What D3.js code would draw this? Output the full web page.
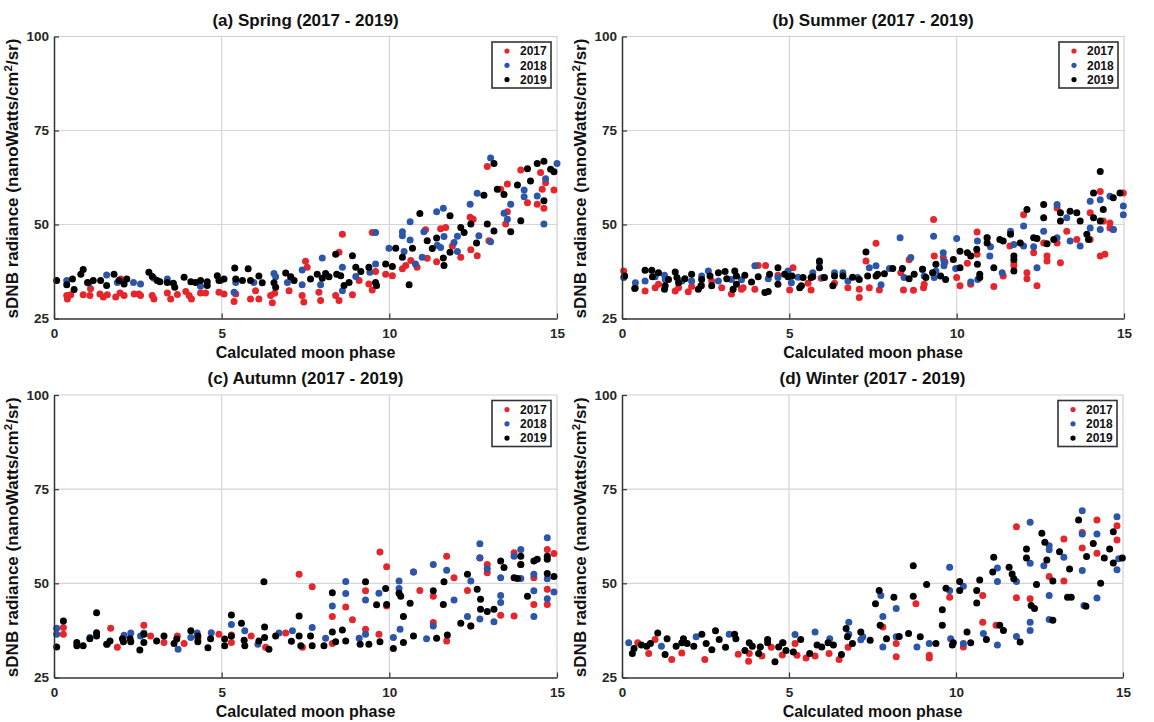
<!DOCTYPE html>
<html>
<head>
<meta charset="utf-8">
<script src="https://cdn.jsdelivr.net/npm/d3@7"></script>
<style>
  html, body { margin: 0; padding: 0; background: #fff; }
  svg { display: block; font-family: "Liberation Sans", Arial, sans-serif; font-weight: bold; }
</style>
</head>
<body>
<svg id="chart" width="1154" height="722"></svg>
<script>
// ---------------- data ----------------
const years = ["2017", "2018", "2019"];
const xTicks = [0, 5, 10, 15];
const yTicks = [25, 50, 75, 100];
const panelTitles = ["(a) Spring (2017 - 2019)", "(b) Summer (2017 - 2019)", "(c) Autumn (2017 - 2019)", "(d) Winter (2017 - 2019)"];
const xLabel = "Calculated moon phase";

const spring2017 = [[0.38,31.1],[0.4,30.2],[0.5,31.3],[0.87,31.3],[1.09,32.9],[1.07,31.1],[1.37,31.5],[1.47,30.7],[1.59,31.3],[1.84,30.7],[1.97,31.8],[1.99,35.5],[2.09,31.1],[2.39,31.5],[2.53,31.5],[2.58,31.1],[2.93,31.1],[2.98,30.2],[3.38,31.8],[3.48,30.2],[3.68,31.4],[3.93,32.2],[4.03,31.1],[4.1,30.2],[4.37,31.8],[4.52,31.8],[4.92,32.0],[5.07,31.5],[5.37,29.5],[5.42,31.5],[5.86,30.2],[6.01,32.4],[6.11,30.2],[6.46,31.1],[6.51,29.2],[6.58,31.7],[7.01,32.4],[7.06,36.0],[7.4,31.1],[7.45,29.4],[7.5,40.2],[7.55,38.6],[7.9,32.0],[7.95,29.8],[8.4,31.1],[8.5,29.8],[8.5,42.6],[8.6,47.4],[8.9,31.3],[9.1,35.1],[9.39,34.2],[9.49,32.6],[9.49,47.9],[9.59,37.5],[9.89,36.8],[10.09,36.4],[10.39,38.2],[10.49,39.1],[10.64,40.4],[10.83,38.6],[11.08,48.6],[11.13,41.0],[11.41,40.1],[11.53,48.9],[11.68,49.2],[11.88,44.3],[12.13,41.3],[12.41,51.9],[12.43,43.3],[12.5,51.4],[12.62,41.7],[12.92,65.4],[12.97,45.7],[13.32,59.4],[13.52,60.8],[13.47,50.1],[13.52,53.4],[13.92,64.5],[14.12,55.8],[14.41,55.4],[14.51,63.8],[14.56,59.4],[14.61,54.3],[14.66,61.1],[14.91,59.2]];
const spring2018 = [[0.38,35.1],[1.04,34.4],[1.57,36.6],[1.89,34.6],[2.37,34.6],[2.58,34.2],[2.98,35.7],[3.38,35.5],[4.37,33.6],[4.97,35.1],[5.37,32.0],[5.42,34.6],[5.96,34.6],[6.56,37.0],[6.61,36.1],[6.96,34.6],[7.4,34.0],[7.4,37.9],[7.95,34.0],[8.0,41.1],[8.6,38.6],[8.6,32.4],[9.0,36.2],[9.42,37.3],[9.59,47.9],[9.59,39.5],[9.99,43.7],[10.39,48.1],[10.39,47.0],[10.44,42.8],[10.62,50.7],[10.62,45.9],[10.78,39.5],[10.98,41.3],[11.03,48.1],[11.41,53.4],[11.61,54.3],[11.43,44.5],[11.53,43.9],[11.63,46.8],[11.93,45.2],[12.03,42.8],[12.03,46.9],[12.41,55.4],[12.62,58.3],[12.67,47.0],[13.02,45.4],[13.02,67.7],[13.42,53.0],[13.52,51.4],[13.62,55.4],[14.02,59.2],[14.02,57.4],[14.41,57.6],[14.61,50.1],[14.66,62.2],[15.0,66.2]];
const spring2019 = [[0.08,35.1],[0.38,34.0],[0.55,35.5],[0.6,32.7],[0.8,36.8],[0.87,38.0],[1.0,34.6],[1.17,35.1],[1.39,35.1],[1.57,33.8],[1.79,36.8],[1.94,35.1],[2.09,34.2],[2.17,35.5],[2.83,37.3],[2.93,36.2],[3.08,35.1],[3.16,34.8],[3.38,34.6],[3.56,34.4],[3.6,33.3],[3.88,36.0],[4.08,34.8],[4.22,34.6],[4.37,35.1],[4.57,34.8],[4.57,33.8],[4.87,36.4],[4.92,35.1],[5.07,35.5],[5.39,38.4],[5.42,35.5],[5.62,35.1],[5.79,38.2],[5.86,35.1],[6.11,36.3],[6.21,34.5],[6.56,34.5],[6.61,33.3],[6.91,37.1],[7.06,36.1],[7.16,35.1],[7.65,35.5],[7.85,36.8],[8.0,35.7],[8.1,37.0],[8.2,36.1],[8.4,42.1],[8.43,36.8],[8.55,36.4],[8.65,33.8],[8.8,34.6],[8.9,41.7],[9.0,38.6],[9.15,37.5],[9.39,38.6],[9.59,34.6],[9.62,33.8],[9.89,39.5],[10.09,38.8],[10.19,43.7],[10.39,41.3],[10.59,34.0],[10.69,43.7],[10.91,52.9],[11.13,45.7],[11.28,43.6],[11.41,46.4],[11.61,41.1],[11.63,39.1],[11.81,52.3],[11.81,42.6],[12.13,49.2],[12.23,47.9],[12.43,50.1],[12.6,45.1],[12.82,57.8],[12.92,50.1],[13.12,66.2],[13.12,48.3],[13.22,59.4],[13.42,58.0],[13.62,48.1],[13.82,60.5],[13.92,51.0],[14.12,64.8],[14.21,61.6],[14.41,66.2],[14.61,66.8],[14.61,56.3],[14.81,64.7],[14.91,64.0]];

const summer2017 = [[0.05,37.6],[0.40,33.2],[0.69,32.3],[0.99,33.2],[1.09,34.1],[1.59,32.3],[1.69,33.2],[1.98,32.1],[2.08,33.5],[2.38,33.8],[2.68,35.0],[2.98,33.2],[3.27,31.5],[3.57,32.8],[3.62,33.2],[3.97,32.8],[4.07,39.1],[4.29,39.1],[4.66,36.5],[5.01,32.6],[5.11,38.5],[5.56,34.4],[5.65,32.6],[5.95,35.7],[6.35,34.4],[6.75,33.2],[7.09,32.8],[7.09,30.6],[7.29,40.3],[7.39,33.2],[7.59,45.0],[7.69,32.6],[8.33,37.2],[8.41,32.6],[8.58,40.6],[8.71,32.5],[9.01,33.2],[9.03,34.1],[9.31,51.3],[9.33,41.6],[9.60,41.2],[9.65,40.0],[10.00,35.9],[10.10,33.7],[10.32,39.7],[10.42,34.1],[10.61,48.0],[10.61,42.1],[10.91,46.5],[11.11,33.5],[11.39,36.3],[11.59,44.3],[11.71,39.8],[11.71,39.0],[12.00,52.6],[12.10,37.2],[12.10,35.6],[12.30,42.5],[12.40,33.7],[12.60,45.1],[12.70,40.3],[12.70,41.6],[13.00,54.4],[13.00,45.1],[13.10,39.8],[13.29,48.2],[13.59,46.0],[13.99,53.1],[13.99,46.0],[14.29,58.8],[14.29,41.6],[14.38,50.9],[14.43,42.1],[14.58,50.4],[14.58,49.1],[14.68,48.7],[14.98,58.4]];
const summer2018 = [[0.05,35.9],[0.40,34.5],[0.69,35.0],[0.99,36.1],[1.27,36.5],[1.29,35.4],[1.79,35.0],[2.08,35.0],[2.38,36.3],[2.58,37.6],[2.88,35.0],[3.27,35.4],[3.57,35.3],[3.97,39.0],[4.37,35.6],[4.66,35.9],[4.96,37.6],[5.06,34.5],[5.26,36.0],[5.70,37.2],[5.90,39.8],[6.00,35.9],[6.35,37.2],[6.60,37.2],[6.75,35.0],[7.04,35.9],[7.39,38.5],[7.59,39.0],[7.74,34.0],[7.99,38.3],[8.31,46.5],[8.43,35.9],[8.63,41.2],[8.98,38.1],[9.03,36.3],[9.31,46.9],[9.33,35.9],[9.38,37.6],[9.60,42.5],[9.62,40.3],[9.62,39.0],[10.00,46.3],[9.97,38.3],[10.42,34.7],[10.62,45.6],[10.63,35.4],[10.99,41.6],[11.01,44.1],[11.36,37.2],[11.61,48.2],[11.71,44.7],[12.00,49.6],[12.00,44.3],[12.30,44.1],[12.40,38.5],[12.60,48.2],[13.00,55.3],[13.00,46.5],[13.29,51.8],[13.39,45.6],[13.69,44.3],[13.99,56.2],[13.99,49.1],[14.29,56.6],[14.29,48.7],[14.58,57.5],[14.68,48.7],[14.98,54.9],[14.98,52.6]];
const summer2019 = [[0.08,36.3],[0.38,33.0],[0.69,37.8],[0.89,37.8],[0.91,36.1],[1.09,37.2],[1.27,32.8],[1.29,33.7],[1.39,35.4],[1.59,37.4],[1.64,35.9],[1.69,34.5],[1.88,35.6],[2.08,36.8],[2.28,32.8],[2.36,33.7],[2.38,35.4],[2.63,36.3],[2.68,33.7],[2.88,37.2],[3.08,37.5],[3.13,35.6],[3.32,32.8],[3.37,37.6],[3.42,34.1],[3.42,36.3],[3.67,36.5],[3.87,34.7],[4.07,36.1],[4.27,31.9],[4.37,32.2],[4.41,36.8],[4.66,38.5],[4.66,34.1],[4.86,36.8],[4.96,36.1],[5.08,36.3],[5.31,33.2],[5.36,33.7],[5.41,35.9],[5.65,35.9],[5.70,36.1],[5.90,40.3],[5.90,38.5],[6.05,35.9],[6.30,33.7],[6.35,36.3],[6.60,36.3],[6.89,36.0],[7.09,35.4],[7.29,42.7],[7.34,36.3],[7.59,36.3],[7.64,36.8],[7.84,36.9],[8.09,38.3],[8.38,38.3],[8.58,35.6],[8.73,36.8],[8.98,38.1],[9.08,35.9],[9.28,37.2],[9.38,39.4],[9.52,36.3],[9.67,35.4],[9.90,40.7],[10.10,42.9],[10.10,38.5],[10.32,42.5],[10.42,41.6],[10.60,43.4],[10.62,39.4],[10.69,36.8],[10.69,35.9],[10.91,46.5],[10.91,45.1],[11.11,38.5],[11.29,46.0],[11.39,45.6],[11.61,47.4],[11.71,41.6],[11.71,40.7],[11.71,37.6],[11.90,45.1],[12.10,54.0],[12.30,46.5],[12.40,46.3],[12.60,55.3],[12.60,51.8],[12.70,44.9],[12.90,46.0],[13.10,53.1],[13.10,50.9],[13.39,53.5],[13.59,53.1],[13.69,50.9],[13.89,47.4],[13.94,46.0],[14.09,58.4],[14.09,51.8],[14.29,64.1],[14.29,50.9],[14.38,54.0],[14.68,57.1],[14.88,58.4]];

const autumn2017 = [[0.28,38.3],[0.28,36.5],[1.69,38.1],[1.89,33.0],[2.68,38.9],[2.88,36.0],[3.28,34.3],[3.68,36.0],[3.88,34.0],[4.29,35.4],[4.92,36.5],[5.29,36.3],[5.29,34.3],[5.88,36.0],[6.31,33.0],[6.91,36.8],[7.31,52.4],[7.41,33.0],[7.70,49.1],[8.30,41.2],[8.30,34.0],[8.70,43.7],[8.90,40.3],[9.29,48.0],[9.29,37.8],[9.69,36.5],[9.72,58.3],[9.92,54.4],[9.92,44.0],[10.72,53.0],[10.91,48.1],[11.31,46.6],[11.31,39.6],[11.71,57.2],[11.71,34.7],[11.93,51.5],[12.33,48.1],[12.43,38.7],[12.70,56.7],[12.92,55.0],[12.92,52.8],[13.32,41.5],[13.72,58.1],[13.72,41.3],[13.92,55.0],[14.31,51.5],[14.31,44.4],[14.71,59.0],[14.71,48.4],[14.71,44.4],[14.91,57.9]];
const autumn2018 = [[0.08,38.1],[0.08,36.5],[1.07,35.6],[1.59,33.8],[2.09,36.2],[2.29,36.8],[2.58,36.0],[2.68,36.8],[3.70,32.5],[4.08,35.6],[4.27,36.8],[4.69,36.9],[5.29,39.1],[5.69,37.4],[6.08,33.8],[6.71,36.8],[7.11,37.4],[7.70,38.3],[8.10,35.4],[8.30,44.0],[8.70,47.3],[8.70,50.5],[9.10,35.4],[9.29,45.6],[9.29,36.5],[9.69,47.4],[10.12,35.6],[10.29,50.6],[10.29,48.6],[10.32,37.8],[10.72,53.0],[11.11,35.3],[11.31,55.0],[11.31,38.7],[11.71,53.5],[11.93,45.6],[12.33,41.2],[12.43,50.6],[12.70,60.5],[12.70,56.8],[12.70,40.5],[12.92,53.9],[13.12,39.8],[13.32,51.5],[13.32,44.9],[13.32,46.8],[13.72,57.2],[13.92,59.0],[13.92,51.3],[14.31,52.4],[14.31,48.0],[14.31,41.2],[14.71,62.1],[14.71,51.2],[14.71,45.9],[14.91,47.7]];
const autumn2019 = [[0.08,33.1],[0.28,40.0],[0.68,34.3],[0.68,33.4],[0.87,33.4],[1.07,35.3],[1.27,36.9],[1.27,36.0],[1.27,42.2],[1.57,33.8],[1.67,34.7],[2.04,35.3],[2.07,34.5],[2.27,35.3],[2.29,34.5],[2.56,32.3],[2.68,34.3],[2.68,36.5],[3.06,34.7],[3.28,36.0],[3.58,34.0],[3.66,35.2],[4.08,37.4],[4.29,36.0],[4.29,34.5],[4.59,32.9],[4.67,35.3],[5.09,35.2],[5.09,33.4],[5.29,41.6],[5.29,36.0],[5.59,39.4],[5.67,34.9],[5.69,33.4],[6.11,34.7],[6.26,50.4],[6.28,38.4],[6.28,35.6],[6.41,32.5],[6.61,36.0],[7.08,34.6],[7.31,41.3],[7.31,36.0],[7.36,33.4],[7.65,36.0],[7.70,33.4],[8.05,33.4],[8.30,47.5],[8.30,37.1],[8.40,34.5],[8.60,37.6],[8.70,34.7],[9.13,33.8],[9.29,50.4],[9.39,33.8],[9.62,44.3],[9.72,34.5],[9.89,48.6],[9.92,44.4],[10.12,32.7],[10.29,47.4],[10.34,46.6],[10.42,41.2],[10.42,34.3],[10.62,44.7],[10.72,36.0],[11.31,48.0],[11.41,35.4],[11.61,44.4],[11.63,50.4],[11.73,36.3],[12.13,39.4],[12.33,52.4],[12.43,38.7],[12.62,48.4],[12.72,43.1],[12.72,45.8],[12.92,42.5],[13.12,43.1],[13.32,55.9],[13.42,54.2],[13.72,51.5],[13.82,51.3],[13.92,55.0],[13.92,57.2],[14.12,46.6],[14.31,55.9],[14.41,56.4],[14.71,57.2],[14.71,56.4],[14.71,52.6],[14.91,51.8]];

const winter2017 = [[0.47,34.2],[0.80,31.4],[0.99,35.1],[1.49,29.8],[1.79,31.5],[2.48,29.8],[3.48,31.2],[3.79,29.3],[3.81,31.4],[4.19,30.7],[4.47,33.0],[4.80,31.0],[5.18,34.0],[5.24,30.9],[5.51,30.2],[5.78,30.7],[6.20,31.4],[6.50,29.8],[6.77,33.0],[7.81,38.4],[8.21,34.0],[8.21,30.5],[8.80,44.6],[9.20,30.9],[9.20,30.2],[9.81,46.3],[10.22,33.1],[10.80,46.8],[10.80,39.7],[11.20,38.9],[11.81,65.0],[11.81,46.2],[12.22,45.9],[12.79,51.8],[13.23,61.8],[13.23,50.6],[13.78,59.4],[13.78,63.5],[14.22,66.8],[14.22,58.0],[14.82,65.3],[14.82,61.5]];
const winter2018 = [[0.20,34.2],[1.18,33.3],[2.22,35.8],[3.21,36.5],[4.14,33.1],[4.80,34.2],[5.18,36.4],[5.78,37.1],[6.22,35.3],[6.79,39.7],[6.79,36.5],[7.21,35.8],[7.15,35.0],[7.75,46.8],[7.81,41.2],[7.81,33.1],[8.21,35.8],[8.21,43.3],[8.83,33.1],[9.20,34.0],[9.81,54.3],[9.81,48.1],[9.84,35.3],[10.22,49.2],[10.22,34.0],[10.82,36.7],[11.24,54.1],[11.24,50.5],[11.24,33.6],[11.81,50.5],[11.81,35.9],[12.22,66.2],[12.22,55.3],[12.22,39.7],[12.22,37.5],[12.63,54.7],[12.79,60.0],[12.79,58.9],[12.79,46.8],[12.79,40.4],[13.23,56.9],[13.78,69.3],[13.78,63.1],[13.78,53.4],[13.83,44.1],[14.22,63.1],[14.22,46.1],[14.82,67.7],[14.82,53.6],[14.87,56.5]];
const winter2019 = [[0.31,31.4],[0.36,32.7],[0.58,33.6],[0.74,33.3],[0.85,34.0],[1.07,36.8],[1.29,31.1],[1.35,35.3],[1.62,33.3],[1.79,34.2],[1.84,35.3],[1.95,34.0],[2.15,33.3],[2.39,36.5],[2.52,34.0],[2.69,32.4],[2.80,37.4],[2.91,35.1],[3.10,33.0],[3.37,36.5],[3.41,35.3],[3.68,32.2],[3.81,34.2],[3.90,33.3],[4.09,31.4],[4.14,33.1],[4.36,35.1],[4.36,34.2],[4.58,29.2],[4.69,33.1],[4.82,34.2],[4.91,32.2],[5.13,31.8],[5.35,35.1],[5.62,31.4],[5.84,33.6],[5.98,33.1],[6.17,34.2],[6.33,33.6],[6.57,31.1],[6.71,38.0],[6.75,35.8],[6.90,34.0],[7.15,37.1],[7.43,34.9],[7.59,44.6],[7.70,48.1],[7.73,38.9],[7.92,35.3],[8.14,46.3],[8.30,35.9],[8.58,36.7],[8.72,46.6],[8.72,54.7],[8.93,35.8],[9.12,49.7],[9.40,34.0],[9.59,43.0],[9.59,38.9],[9.70,48.7],[9.89,33.6],[9.92,34.2],[10.11,50.5],[10.11,48.1],[10.33,37.1],[10.44,34.2],[10.62,48.1],[10.62,44.8],[10.71,50.9],[10.91,35.1],[11.10,53.0],[11.13,56.9],[11.31,38.9],[11.42,37.5],[11.59,54.3],[11.68,52.5],[11.73,51.2],[11.92,34.4],[12.11,59.1],[12.11,56.7],[12.25,44.1],[12.35,43.3],[12.41,49.7],[12.57,63.3],[12.66,60.9],[12.72,56.2],[12.90,50.6],[12.90,40.2],[13.10,58.4],[13.40,53.8],[13.34,46.3],[13.45,46.3],[13.67,66.8],[13.89,43.9],[13.91,57.1],[14.11,60.6],[14.33,50.0],[14.44,56.7],[14.60,59.1],[14.71,63.7],[14.71,55.4],[14.98,56.7]];

const seasonSeries = [
  [spring2017, spring2018, spring2019],
  [summer2017, summer2018, summer2019],
  [autumn2017, autumn2018, autumn2019],
  [winter2017, winter2018, winter2019]
];

// ---------------- layout / style ----------------
const yearColors = ["#e5262c", "#2c56a8", "#000000"];
const panels = [
  { left: 54,  right: 557,  top: 36.5, bottom: 318.5 },
  { left: 622, right: 1124, top: 36.5, bottom: 318.5 },
  { left: 54,  right: 557,  top: 395,  bottom: 677.5 },
  { left: 622, right: 1123, top: 395,  bottom: 677.5 }
];

const svg = d3.select("#chart");

panels.forEach((p, i) => {
  const x = d3.scaleLinear().domain([0, 15]).range([p.left, p.right]);
  const y = d3.scaleLinear().domain([25, 100]).range([p.bottom, p.top]);
  const g = svg.append("g");

  // grid
  g.selectAll(".gx").data(xTicks.slice(1, -1)).join("line")
    .attr("x1", d => x(d)).attr("x2", d => x(d))
    .attr("y1", p.top).attr("y2", p.bottom)
    .attr("stroke", "#d6d6d6").attr("stroke-width", 1.2);
  g.selectAll(".gy").data(yTicks.slice(1, -1)).join("line")
    .attr("y1", d => y(d)).attr("y2", d => y(d))
    .attr("x1", p.left).attr("x2", p.right)
    .attr("stroke", "#d6d6d6").attr("stroke-width", 1.2);
  // light top/right border
  g.append("path")
    .attr("d", `M${p.left},${p.top}H${p.right}V${p.bottom}`)
    .attr("fill", "none").attr("stroke", "#cfcfcf").attr("stroke-width", 1.2);

  // points (2017 first, 2019 on top)
  seasonSeries[i].forEach((series, k) => {
    g.append("g").selectAll("circle").data(series).join("circle")
      .attr("cx", d => x(d[0])).attr("cy", d => y(d[1]))
      .attr("r", 3.5).attr("fill", yearColors[k]);
  });

  // axes
  const xAxis = d3.axisBottom(x).tickValues(xTicks).tickSizeInner(-5).tickSizeOuter(0).tickPadding(9);
  const yAxis = d3.axisLeft(y).tickValues(yTicks).tickSizeInner(-5).tickSizeOuter(0).tickPadding(9);
  const gx = g.append("g").attr("transform", `translate(0,${p.bottom})`).call(xAxis);
  const gy = g.append("g").attr("transform", `translate(${p.left},0)`).call(yAxis);
  [gx, gy].forEach(a => {
    a.select(".domain").attr("stroke", "#333").attr("stroke-width", 1.5);
    a.selectAll(".tick line").attr("stroke", "#333").attr("stroke-width", 1.2);
    a.selectAll(".tick text").attr("fill", "#262626")
      .style("font-family", "'Liberation Sans', Arial, sans-serif")
      .style("font-weight", "bold").style("font-size", "13.5px");
  });
  gy.selectAll(".tick text").attr("x", -5);
  gx.selectAll(".tick text").attr("y", 10);

  // title
  g.append("text")
    .attr("x", (p.left + p.right) / 2).attr("y", p.top - 11)
    .attr("text-anchor", "middle").attr("fill", "#111")
    .style("font-size", "17px").text(panelTitles[i]);

  // x label
  g.append("text")
    .attr("x", (p.left + p.right) / 2).attr("y", p.bottom + 39)
    .attr("text-anchor", "middle").attr("fill", "#111")
    .style("font-size", "16px").text(xLabel);

  // y label
  const yl = g.append("text")
    .attr("transform", `translate(${p.left - 36},${(p.top + p.bottom) / 2 + 1}) rotate(-90)`)
    .attr("text-anchor", "middle").attr("fill", "#111")
    .style("font-size", "17px");
  yl.append("tspan").text("sDNB radiance (nanoWatts/cm");
  yl.append("tspan").attr("dy", -6).style("font-size", "11.5px").text("2");
  yl.append("tspan").attr("dy", 6).text("/sr)");

  // legend
  const lw = 59, lh = 46;
  const lx = p.right - 6 - lw, ly = p.top + 5.5;
  const lg = g.append("g");
  lg.append("rect").attr("x", lx).attr("y", ly).attr("width", lw).attr("height", lh)
    .attr("fill", "#fff").attr("stroke", "#333").attr("stroke-width", 1.6);
  years.forEach((yr, k) => {
    const cy = ly + 9 + k * 14.3;
    lg.append("circle").attr("cx", lx + 15).attr("cy", cy).attr("r", 2.6).attr("fill", yearColors[k]);
    lg.append("text").attr("x", lx + 28).attr("y", cy + 4.3).attr("fill", "#111")
      .style("font-size", "12px").text(yr);
  });
});
</script>
</body>
</html>
